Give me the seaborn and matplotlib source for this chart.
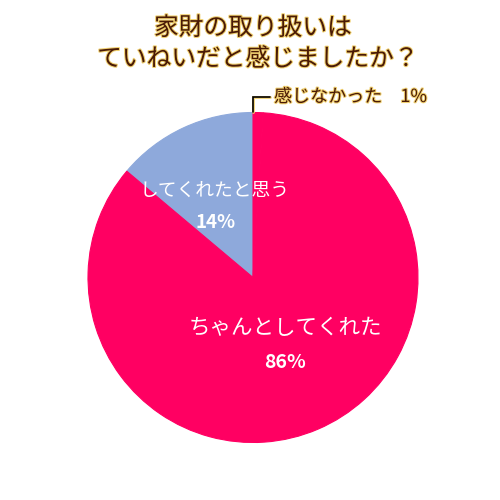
import matplotlib
matplotlib.use("Agg")
import matplotlib.pyplot as plt
import matplotlib.patheffects as pe
import seaborn as sns

categories = ["してくれたと思う", "ちゃんとしてくれた", "感じなかった"]
values = [14, 86, 1]
pct_labels = ["14%", "86%", "1%"]
title_lines = ["家財の取り扱いは", "ていねいだと感じましたか？"]

sns.set_theme(style="white")
plt.rcParams['font.family'] = ['Noto Sans CJK JP', 'DejaVu Sans']

colors = ["#8EA9DB", "#FF0062", "#FF0062"]

fig = plt.figure(figsize=(5, 5), dpi=100)
ax = fig.add_axes([0, 0, 1, 1])
wedges, _ = ax.pie(values, colors=colors, startangle=90, counterclock=True, radius=1.0,
                   wedgeprops=dict(linewidth=0.8))
for w in wedges:
    w.set_edgecolor(w.get_facecolor())
ax.set_xlim(-253/165, 247/165)
ax.set_ylim(-222.5/165, 277.5/165)
ax.set_aspect('equal')
ax.axis('off')

def px(x, y):
    return ((x - 253) / 165, (277.5 - y) / 165)

glow = [pe.withStroke(linewidth=1.5, foreground="#f0d070")]
title_color = "#4a1a05"

x, y = px(253, 28)
ax.text(x, y, title_lines[0], ha='center', va='center', fontsize=17.8,
        color=title_color, path_effects=glow)
x, y = px(258, 59)
ax.text(x, y, title_lines[1], ha='center', va='center', fontsize=17.8,
        color=title_color, path_effects=glow)

# labels inside slices
x, y = px(215, 190)
ax.text(x, y, categories[0], ha='center', va='center', fontsize=13.5, color='white')
x, y = px(216, 222)
ax.text(x, y, pct_labels[0], ha='center', va='center', fontsize=13.5, color='white', fontweight='bold')
x, y = px(285, 328)
ax.text(x, y, categories[1], ha='center', va='center', fontsize=15.5, color='white')
x, y = px(285, 362)
ax.text(x, y, pct_labels[1], ha='center', va='center', fontsize=14, color='white', fontweight='bold')

# leader line for the small slice
p0 = px(253, 112); p1 = px(253, 97); p2 = px(270, 97)
ax.plot([p0[0], p1[0], p2[0]], [p0[1], p1[1], p2[1]], color='black', lw=1.2,
        solid_joinstyle='miter', path_effects=[pe.withStroke(linewidth=2.0, foreground="#f0d070")])
x, y = px(274, 97)
ax.text(x, y, categories[2] + "\u3000" + pct_labels[2], ha='left', va='center', fontsize=13,
        color=title_color, path_effects=glow)

fig.savefig("out.png", dpi=100, facecolor='white')
